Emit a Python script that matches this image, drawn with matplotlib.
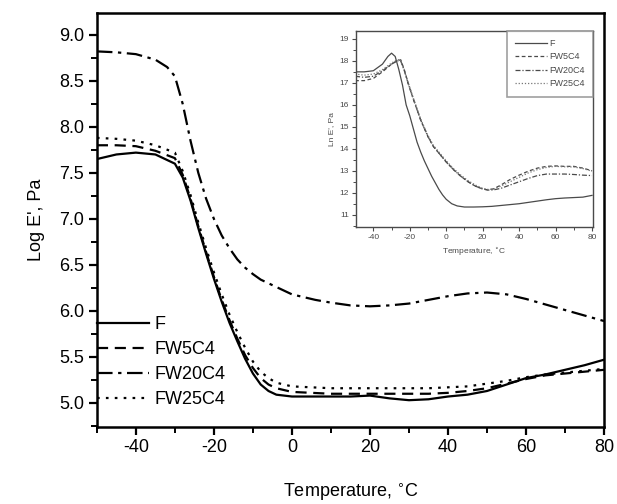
import matplotlib
matplotlib.use("Agg")
import matplotlib.pyplot as plt
from matplotlib.ticker import MultipleLocator

plt.rcParams['font.family'] = ['Liberation Sans', 'DejaVu Sans']
plt.rcParams['axes.unicode_minus'] = False

# ---- main plot data (Log E', Pa) ----
T_F = [-50, -45, -40, -35, -30, -28, -26, -24, -22, -20, -18, -16, -14, -12, -10, -8, -6, -4, -2, 0,
       5, 10, 15, 20, 25, 30, 35, 40, 45, 50, 55, 60, 65, 70, 75, 80]
F_main = [7.65, 7.70, 7.72, 7.70, 7.60, 7.45, 7.20, 6.90, 6.62, 6.35, 6.10, 5.87, 5.67, 5.48, 5.32, 5.20, 5.13, 5.09, 5.08, 5.07,
          5.07, 5.07, 5.07, 5.08, 5.05, 5.03, 5.04, 5.07, 5.09, 5.13, 5.20, 5.27, 5.31, 5.36, 5.41, 5.47]
FW5C4_main = [7.80, 7.80, 7.79, 7.74, 7.66, 7.48, 7.22, 6.92, 6.64, 6.37, 6.12, 5.90, 5.70, 5.52, 5.38, 5.27, 5.20, 5.16, 5.14, 5.12,
              5.11, 5.10, 5.10, 5.10, 5.10, 5.10, 5.10, 5.11, 5.13, 5.16, 5.21, 5.26, 5.30, 5.32, 5.34, 5.36]
FW25C4_main = [7.88, 7.87, 7.85, 7.80, 7.72, 7.52, 7.26, 6.96, 6.68, 6.42, 6.18, 5.96, 5.77, 5.60, 5.45, 5.34, 5.27, 5.22, 5.20, 5.18,
               5.17, 5.16, 5.16, 5.16, 5.16, 5.16, 5.16, 5.17, 5.18, 5.21, 5.24, 5.28, 5.31, 5.33, 5.35, 5.37]
T_FW20 = [-50, -45, -40, -35, -32, -30, -28, -26, -24, -22, -20, -18, -16, -14, -12, -10, -8, -5, -2, 0,
          3, 6, 10, 15, 20, 25, 30, 35, 40, 45, 50, 55, 60, 65, 70, 75, 80]
FW20C4_main = [8.82, 8.81, 8.79, 8.73, 8.65, 8.55, 8.25, 7.85, 7.50, 7.22, 7.00, 6.82, 6.68, 6.56, 6.47, 6.40, 6.34, 6.28, 6.22, 6.18,
               6.15, 6.12, 6.09, 6.06, 6.05, 6.06, 6.08, 6.12, 6.16, 6.19, 6.20, 6.18, 6.13, 6.07, 6.01, 5.95, 5.89]

# ---- inset data (Ln E', Pa) ----
Ti_F = [-50, -45, -40, -35, -32, -30, -28, -26, -24, -22, -20, -18, -16, -14, -12, -10, -8, -6, -4, -2, 0,
        3, 6, 10, 15, 20, 25, 30, 35, 40, 45, 50, 55, 60, 65, 70, 75, 80]
F_inset = [17.5, 17.5, 17.55, 17.85, 18.2, 18.35, 18.2, 17.6, 16.9, 16.0, 15.5, 14.9, 14.3, 13.85, 13.45, 13.1, 12.75, 12.45, 12.15, 11.9, 11.7,
           11.5, 11.4, 11.35, 11.35, 11.36, 11.38, 11.42, 11.46, 11.5, 11.56, 11.62, 11.68, 11.73, 11.76, 11.78, 11.8, 11.88]
Ti_W = [-50, -45, -40, -35, -30, -27, -25, -23, -21, -18, -14, -10, -7, -3, 0, 4, 8, 12, 16, 20, 23, 26, 30,
        35, 40, 45, 50, 55, 60, 65, 70, 75, 80]
FW5C4_inset = [17.1, 17.1, 17.2, 17.5, 17.85, 18.0, 18.05, 17.6, 17.0, 16.25, 15.3, 14.55, 14.1, 13.7, 13.4, 13.05, 12.75, 12.5, 12.3, 12.17, 12.13, 12.18, 12.35,
               12.6, 12.8, 12.98, 13.12, 13.2, 13.22, 13.2, 13.2, 13.12, 13.0]
FW20C4_inset = [17.3, 17.25, 17.3, 17.55, 17.85, 18.0, 18.0, 17.55, 17.0, 16.25, 15.3, 14.55, 14.1, 13.7, 13.4, 13.05, 12.75, 12.5, 12.3, 12.17, 12.12, 12.13, 12.2,
                12.35, 12.5, 12.65, 12.78, 12.85, 12.85, 12.85, 12.83, 12.8, 12.78]
FW25C4_inset = [17.4, 17.35, 17.4, 17.6, 17.9, 18.05, 18.05, 17.6, 17.05, 16.3, 15.35, 14.6, 14.15, 13.75, 13.45, 13.1, 12.8, 12.55, 12.35, 12.2, 12.15, 12.17, 12.3,
                12.5, 12.7, 12.9, 13.05, 13.15, 13.2, 13.18, 13.17, 13.1, 12.98]

labels = ['F', 'FW5C4', 'FW20C4', 'FW25C4']

fig = plt.figure(figsize=(6.17, 5.04), dpi=100)
ax = fig.add_axes([0.157, 0.153, 0.822, 0.821])

lw = 1.6
ax.plot(T_F, F_main, color='black', lw=lw, ls='-', label=labels[0])
ax.plot(T_F, FW5C4_main, color='black', lw=lw, ls=(0, (5, 3)), label=labels[1])
ax.plot(T_FW20, FW20C4_main, color='black', lw=lw, ls=(0, (7, 2.5, 1.5, 2.5)), label=labels[2])
ax.plot(T_F, FW25C4_main, color='black', lw=lw, ls=(0, (1.2, 2.8)), label=labels[3])

ax.set_xlim(-50, 80)
ax.set_ylim(4.74, 9.236)
ax.set_xticks([-40, -20, 0, 20, 40, 60, 80])
ax.xaxis.set_minor_locator(MultipleLocator(10))
ax.yaxis.set_major_locator(MultipleLocator(0.5))
ax.yaxis.set_minor_locator(MultipleLocator(0.25))
ax.yaxis.set_major_formatter(matplotlib.ticker.FormatStrFormatter('%.1f'))
ax.tick_params(which='major', direction='out', length=6, width=1.6, labelsize=13, pad=3)
ax.tick_params(which='minor', direction='out', length=4, width=1.4)
for s in ax.spines.values():
    s.set_linewidth(1.8)
ax.set_xlabel('Temperature, $^{\\circ}$C', fontsize=13, labelpad=18)
ax.set_ylabel("Log E', Pa", fontsize=13, labelpad=10)

leg = ax.legend(loc='lower left', bbox_to_anchor=(0.0, 0.045), frameon=False, fontsize=13,
                handlelength=2.9, handletextpad=0.3, labelspacing=0.45, borderpad=0, borderaxespad=0)

# ---- inset ----
ins = fig.add_axes([0.577, 0.550, 0.384, 0.389])
gcol = '#4a4a4a'
ilw = 0.9
ins.plot(Ti_F, F_inset, color=gcol, lw=ilw, ls='-', label=labels[0])
ins.plot(Ti_W, FW5C4_inset, color=gcol, lw=ilw, ls=(0, (3, 2)), label=labels[1])
ins.plot(Ti_W, FW20C4_inset, color=gcol, lw=ilw, ls=(0, (4, 1.5, 1, 1.5)), label=labels[2])
ins.plot(Ti_W, FW25C4_inset, color='#777777', lw=ilw, ls=(0, (1, 1.5)), label=labels[3])
ins.set_xlim(-49.5, 80.5)
ins.set_ylim(10.45, 19.37)
ins.set_xticks([-40, -20, 0, 20, 40, 60, 80])
ins.xaxis.set_minor_locator(MultipleLocator(10))
ins.yaxis.set_major_locator(MultipleLocator(1))
ins.yaxis.set_minor_locator(MultipleLocator(0.5))
ins.tick_params(which='major', direction='out', length=3, width=0.8, labelsize=6, pad=2, colors=gcol)
ins.tick_params(which='minor', direction='out', length=2, width=0.7, colors=gcol)
for s in ins.spines.values():
    s.set_linewidth(1.0)
    s.set_color(gcol)
ins.set_xlabel('Temperature, $^{\\circ}$C', fontsize=6, color=gcol, labelpad=3)
ins.set_ylabel("Ln E', Pa", fontsize=6, color=gcol, labelpad=3)
il = ins.legend(loc='upper right', fontsize=6.5, frameon=True, fancybox=False, handlelength=3.5,
                handletextpad=0.3, labelspacing=0.5, borderaxespad=0.0, borderpad=0.9)
il.get_frame().set_edgecolor('#888888')
il.get_frame().set_linewidth(1.2)
for t in il.get_texts():
    t.set_color(gcol)

fig.savefig('out.png', dpi=100)
